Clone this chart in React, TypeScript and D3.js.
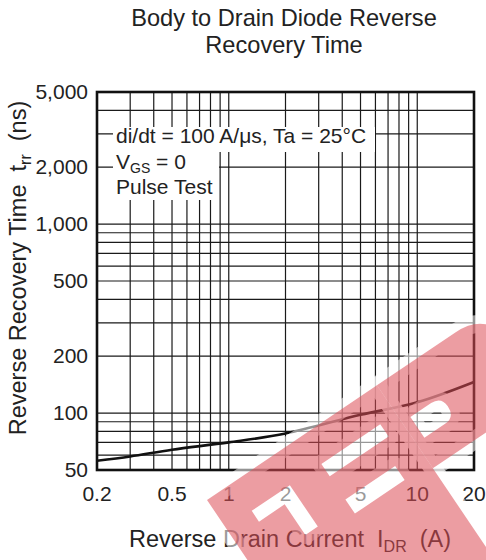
import React from "react";
import * as d3 from "d3";

const currentA = [0.2, 0.3, 0.5, 1, 2, 5, 10, 20];
const trrNs = [56, 59, 64, 70, 78, 98, 114, 146];
const xTickLabels = ["0.2", "0.5", "1", "2", "5", "10", "20"];
const xTickValues = [0.2, 0.5, 1, 2, 5, 10, 20];
const yTickLabels = ["5,000", "2,000", "1,000", "500", "200", "100", "50"];
const yTickValues = [5000, 2000, 1000, 500, 200, 100, 50];
const xGrid = [0.3, 0.4, 0.5, 0.6, 0.7, 0.8, 0.9, 1, 2, 3, 4, 5, 6, 7, 8, 9, 10];
const yGrid = [60, 70, 80, 90, 100, 200, 300, 400, 500, 600, 700, 800, 900, 1000, 2000, 3000, 4000];

const W = 486, H = 560;
const L = 97, R = 474, T = 92, B = 470;
const FONT = "'Liberation Sans', Arial, Helvetica, sans-serif";

const wmLetter1 = "M0,0 H205 V240 H0 Z M31,34 H77 V84 H62 V47 H31 Z M115,34 H186 V49 H115 Z M115,77 H175 V94 H115 Z";
const wmLetter2 = "M205,0 H300 Q342,0 342,50 Q342,100 300,100 H205 Z M215,45 H240 Q252,45 252,57 Q252,70 240,70 H215 Z";

export default function App() {
  const x = d3.scaleLog().domain([0.2, 20]).range([L, R]);
  const y = d3.scaleLog().domain([50, 5000]).range([B, T]);
  const line = d3
    .line<number>()
    .x((_, i) => x(currentA[i]))
    .y((d) => y(d))
    .curve(d3.curveCatmullRom.alpha(0.5));
  const col = "#222";
  const pre = { whiteSpace: "pre" as const };
  return (
    <svg width={W} height={H} style={{ display: "block", position: "absolute", left: 0, top: 0 }} fontFamily={FONT}>
      <rect x={0} y={0} width={W} height={H} fill="#fff" />
      <text x={284} y={26} textAnchor="middle" fontSize={23.6} fill={col}>Body to Drain Diode Reverse</text>
      <text x={284} y={53} textAnchor="middle" fontSize={23.6} fill={col}>Recovery Time</text>
      {xGrid.map((v) => (
        <line key={"gx" + v} x1={x(v)} x2={x(v)} y1={T} y2={B} stroke="#1a1a1a" strokeWidth={1.2} />
      ))}
      {yGrid.map((v) => (
        <line key={"gy" + v} x1={L} x2={R} y1={y(v)} y2={y(v)} stroke="#1a1a1a" strokeWidth={1.2} />
      ))}
      <rect x={113} y={127} width={262} height={25} fill="#fff" />
      <rect x={113} y={127} width={106} height={73} fill="#fff" />
      <text x={116} y={143} fontSize={21} fill={col}>di/dt = 100 A/μs, Ta = 25°C</text>
      <text x={116} y={169} fontSize={21} fill={col}>V<tspan fontSize={14} dy={4}>GS</tspan><tspan dy={-4}> = 0</tspan></text>
      <text x={116} y={194} fontSize={21} fill={col}>Pulse Test</text>
      <path d={line(trrNs) || ""} fill="none" stroke="#111" strokeWidth={2.6} />
      <rect x={L} y={T} width={R - L} height={B - T} fill="none" stroke="#111" strokeWidth={2.6} />
      {yTickValues.map((v, i) => (
        <text key={"yt" + v} x={88} y={y(v) + 7} textAnchor="end" fontSize={21} fill={col}>{yTickLabels[i]}</text>
      ))}
      {xTickValues.map((v, i) => (
        <text key={"xt" + v} x={x(v)} y={501} textAnchor="middle" fontSize={21} fill={col}>{xTickLabels[i]}</text>
      ))}
      <text x={290} y={547} textAnchor="middle" fontSize={23.5} fill={col} style={pre}>
        {"Reverse Drain Current  I"}<tspan fontSize={16} dy={5}>DR</tspan><tspan dy={-5}>{"  (A)"}</tspan>
      </text>
      <text transform="translate(26,268) rotate(-90)" textAnchor="middle" fontSize={23.5} fill={col} style={pre}>
        {"Reverse Recovery Time  t"}<tspan fontSize={16} dy={5}>rr</tspan><tspan dy={-5}>{"  (ns)"}</tspan>
      </text>
      <g transform="translate(207,500) rotate(-34)">
        <g fill="none" stroke="#fff" strokeOpacity={0.55} strokeWidth={18} strokeLinejoin="round">
          <path d={wmLetter1} />
          <path d={wmLetter2} />
        </g>
        <g fill="#dc4c56" fillOpacity={0.55} fillRule="evenodd">
          <path d={wmLetter1} />
          <path d={wmLetter2} />
        </g>
      </g>
    </svg>
  );
}
